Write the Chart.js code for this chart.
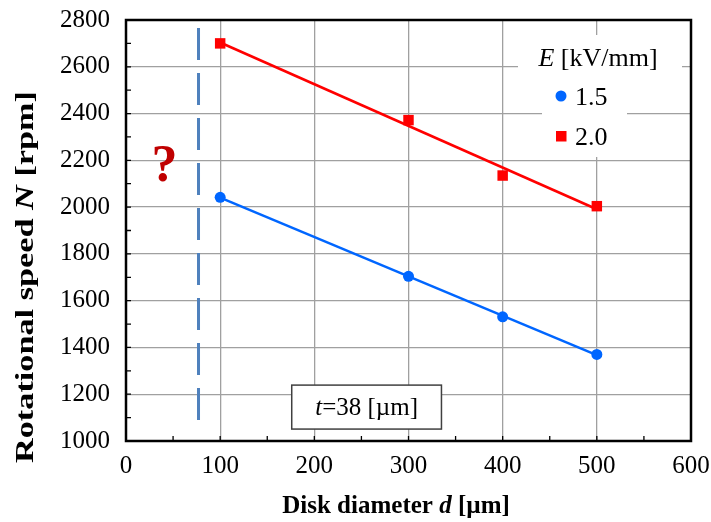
<!DOCTYPE html>
<html lang="en">
<head>
  <meta charset="UTF-8" />
  <title>Rotational speed vs disk diameter</title>
  <script src="https://cdn.jsdelivr.net/npm/chart.js"></script>
  <style>
    body { margin: 0; background: #fff; }
  </style>
</head>
<body>
  <canvas id="miCanvas" width="711" height="522"></canvas>

  <script>
    // data
    const diameters = [100, 300, 400, 500];
    const speedE15 = [2042, 1704, 1531, 1370];
    const speedE20 = [2700, 2372, 2135, 2004];
    const seriesLabels = ['1.5', '2.0'];
    const xTicks = [0, 100, 200, 300, 400, 500, 600];
    const yTicks = [1000, 1200, 1400, 1600, 1800, 2000, 2200, 2400, 2600, 2800];

    // dashed limit line and annotations
    const limitD = 77;
    const limitN = [2766, 1085];
    const notePos = { x0: 176, x1: 335, y0: 1051, y1: 1239 };
    const questionPos = { x: 41, y: 2170 };

    const serif = "'Liberation Serif', 'Times New Roman', serif";
    const blue = '#0066ff';
    const red = '#ff0000';

    // least squares line through the points, like the excel trendline
    const trend = (xs, ys) => {
      const n = xs.length;
      const mx = xs.reduce((a, b) => a + b, 0) / n;
      const my = ys.reduce((a, b) => a + b, 0) / n;
      let sxy = 0, sxx = 0;
      xs.forEach((x, i) => { sxy += (x - mx) * (ys[i] - my); sxx += (x - mx) * (x - mx); });
      const k = sxy / sxx;
      return [xs[0], xs[n - 1]].map(x => ({ x: x, y: my + k * (x - mx) }));
    };

    const pts = (ys) => diameters.map((d, i) => ({ x: d, y: ys[i] }));

    const partsWidth = (ctx, parts) => {
      let w = 0;
      parts.forEach(p => { ctx.font = p[1]; w += ctx.measureText(p[0]).width; });
      return w;
    };

    // draws pieces of text with different fonts, centred on x
    const richText = (ctx, parts, x, y) => {
      let cx = x - partsWidth(ctx, parts) / 2;
      parts.forEach(p => {
        ctx.font = p[1];
        ctx.fillText(p[0], cx, y);
        cx += ctx.measureText(p[0]).width;
      });
    };

    const noPad = s => { s.paddingLeft = 0; s.paddingRight = 0; s.paddingTop = 0; s.paddingBottom = 0; };

    const extras = {
      id: 'extras',
      afterDraw(chart) {
        const ctx = chart.ctx;
        const a = chart.chartArea;
        const xs = chart.scales.x;
        const ys = chart.scales.y;
        ctx.save();

        // minor ticks pointing inward
        ctx.strokeStyle = '#000';
        ctx.lineWidth = 1.3;
        ctx.beginPath();
        for (let v = 1100; v < 2800; v += 100) {
          const py = ys.getPixelForValue(v);
          ctx.moveTo(a.left, py); ctx.lineTo(a.left + 5, py);
        }
        for (let v = 50; v < 600; v += 50) {
          const px = xs.getPixelForValue(v);
          ctx.moveTo(px, a.bottom); ctx.lineTo(px, a.bottom - 5);
        }
        ctx.stroke();

        // frame round the plot area
        ctx.lineWidth = 2.5;
        ctx.strokeRect(a.left, a.top, a.right - a.left, a.bottom - a.top);

        // legend
        ctx.fillStyle = '#fff';
        ctx.fillRect(518, 35, 164, 55);
        ctx.fillRect(542, 88, 85, 69);
        ctx.fillStyle = '#000';
        ctx.textBaseline = 'middle';
        ctx.textAlign = 'left';
        richText(ctx, [['E', 'italic 26px ' + serif], [' [kV/mm]', '26px ' + serif]], 598, 59);
        ctx.font = '26px ' + serif;
        ctx.fillText(seriesLabels[0], 575, 98);
        ctx.fillText(seriesLabels[1], 575, 138);
        ctx.fillStyle = blue;
        ctx.beginPath(); ctx.arc(561, 96, 5.5, 0, Math.PI * 2); ctx.fill();
        ctx.fillStyle = red;
        ctx.fillRect(556, 131, 10.5, 10.5);

        // t = 38 box
        const bx0 = xs.getPixelForValue(notePos.x0), bx1 = xs.getPixelForValue(notePos.x1);
        const by0 = ys.getPixelForValue(notePos.y1), by1 = ys.getPixelForValue(notePos.y0);
        ctx.fillStyle = '#fff';
        ctx.fillRect(bx0, by0, bx1 - bx0, by1 - by0);
        ctx.strokeStyle = '#404040';
        ctx.lineWidth = 1.5;
        ctx.strokeRect(bx0, by0, bx1 - bx0, by1 - by0);
        ctx.fillStyle = '#000';
        richText(ctx, [['t', 'italic 25px ' + serif], ['=38 [\u00b5m]', '25px ' + serif]], (bx0 + bx1) / 2, (by0 + by1) / 2 + 1);

        // question mark
        ctx.fillStyle = '#c00000';
        ctx.textAlign = 'center';
        ctx.font = 'bold 52px ' + serif;
        ctx.fillText('?', xs.getPixelForValue(questionPos.x), ys.getPixelForValue(questionPos.y));

        // axis titles
        ctx.textAlign = 'left';
        ctx.fillStyle = '#000';
        richText(ctx, [['Disk diameter ', 'bold 25px ' + serif], ['d', 'bold italic 25px ' + serif], [' [\u00b5m]', 'bold 25px ' + serif]], 396, 507);
        const yTitle = [['Rotational speed ', 'bold 25px ' + serif], ['N', 'bold italic 25px ' + serif], [' [rpm]', 'bold 25px ' + serif]];
        const stretch = 372 / partsWidth(ctx, yTitle);
        ctx.translate(27, 277);
        ctx.rotate(-Math.PI / 2);
        ctx.scale(stretch, 1);
        richText(ctx, yTitle, 0, 0);
        ctx.restore();
      }
    };

    const tickFont = { family: serif, size: 25 };

    new Chart(document.getElementById('miCanvas').getContext('2d'), {
      type: 'scatter',
      data: {
        datasets: [
          {
            label: seriesLabels[0],
            data: pts(speedE15),
            pointStyle: 'circle',
            pointRadius: 5.5,
            backgroundColor: blue,
            borderWidth: 0
          },
          {
            label: seriesLabels[1],
            data: pts(speedE20),
            pointStyle: 'rect',
            pointRadius: 7.4,
            backgroundColor: red,
            borderWidth: 0
          },
          {
            label: 'fit 1.5',
            data: trend(diameters, speedE15),
            showLine: true,
            borderColor: blue,
            borderWidth: 2.5,
            pointRadius: 0
          },
          {
            label: 'fit 2.0',
            data: trend(diameters, speedE20),
            showLine: true,
            borderColor: red,
            borderWidth: 2.5,
            pointRadius: 0
          },
          {
            label: 'limit',
            data: limitN.map(n => ({ x: limitD, y: n })),
            showLine: true,
            borderColor: '#4f81bd',
            borderWidth: 3,
            borderDash: [32, 13],
            pointRadius: 0
          }
        ]
      },
      options: {
        responsive: false,
        animation: false,
        layout: { padding: { left: 0, top: 20, right: 20, bottom: 0 } },
        plugins: {
          legend: { display: false },
          tooltip: { enabled: false }
        },
        scales: {
          x: {
            type: 'linear',
            min: 0,
            max: 600,
            afterBuildTicks: s => { s.ticks = xTicks.map(v => ({ value: v })); },
            afterFit: s => { s.height = 81; noPad(s); },
            grid: { color: '#a0a0a0', lineWidth: 1.3, drawTicks: false },
            border: { display: false },
            ticks: { font: tickFont, color: '#000', padding: 10, maxRotation: 0, callback: v => String(v) }
          },
          y: {
            min: 1000,
            max: 2800,
            afterBuildTicks: s => { s.ticks = yTicks.map(v => ({ value: v })); },
            afterFit: s => { s.width = 126; noPad(s); },
            grid: { color: '#a0a0a0', lineWidth: 1.3, drawTicks: false },
            border: { display: false },
            ticks: { font: tickFont, color: '#000', padding: 16, callback: v => String(v) }
          }
        }
      },
      plugins: [extras]
    });
  </script>
</body>
</html>
